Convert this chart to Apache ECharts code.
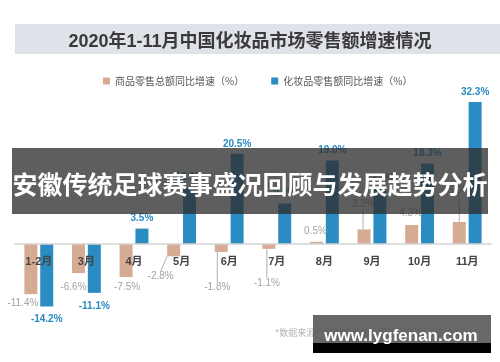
<!DOCTYPE html>
<html>
<head>
<meta charset="utf-8">
<script src="https://cdn.jsdelivr.net/npm/echarts@6/dist/echarts.min.js"></script>
<style>
html,body{margin:0;padding:0;background:#fff;}
#chart{width:500px;height:362px;}
</style>
</head>
<body>
<div id="chart"></div>
<script>
// ---- data ----
var titleText = '2020年1-11月中国化妆品市场零售额增速情况';
var bannerText = '安徽传统足球赛事盛况回顾与发展趋势分析';
var watermarkText = 'www.lygfenan.com';
var sourceText = '*数据来源：国家统计局，聚美丽整理，2020.12';
var seriesNames = ['商品零售总额同比增速（%）', '化妆品零售额同比增速（%）'];
var categories = ['1-2月', '3月', '4月', '5月', '6月', '7月', '8月', '9月', '10月', '11月'];
var retailGrowth = [-11.4, -6.6, -7.5, -2.8, -1.8, -1.1, 0.5, 3.3, 4.3, 5.0];
var cosmeticsGrowth = [-14.2, -11.1, 3.5, 12.9, 20.5, 9.2, 19.0, 12.7, 18.3, 32.3];

// ---- styles ----
var tanColor = '#d5ab93';
var blueColor = '#2b8bc3';
var tanLabelShift = [[-8, -1], [-5, 4], [1, 0], [-13, 10], [-4, 25], [-2, 24], [-1, -1], [-1, -15], [-1, -2], [0, -22]];
var tanLabelLine = [false, false, false, true, true, true, false, true, false, true];

var chart = echarts.init(document.getElementById('chart'), null, {renderer: 'canvas'});

var tanData = retailGrowth.map(function (v, i) {
  return {
    value: v,
    label: {position: v >= 0 ? 'top' : 'bottom', distance: 5},
    labelLine: {show: tanLabelLine[i]}
  };
});
var blueData = cosmeticsGrowth.map(function (v) {
  return {
    value: v,
    label: {position: v >= 0 ? 'top' : 'bottom', distance: v >= 0 ? 5 : 8}
  };
});

var option = {
  backgroundColor: '#ffffff',
  animation: false,
  title: {
    text: titleText,
    left: 'center',
    top: 33,
    padding: 0,
    textStyle: {
      fontFamily: 'Liberation Sans, Noto Sans CJK SC, sans-serif',
      fontSize: 18,
      fontWeight: 'bold',
      color: '#3a3a3a'
    }
  },
  legend: {
    top: 71,
    left: 98,
    icon: 'rect',
    itemWidth: 7,
    itemHeight: 7,
    itemGap: 27,
    data: seriesNames,
    textStyle: {
      fontFamily: 'Noto Sans CJK SC, sans-serif',
      fontSize: 10,
      color: '#555'
    }
  },
  grid: {left: 15, right: 9, top: 90, bottom: 30},
  xAxis: {
    type: 'category',
    data: categories,
    z: 10,
    axisLine: {onZero: true, lineStyle: {color: '#d4d4d4', width: 1.5}},
    axisTick: {show: false},
    axisLabel: {
      margin: -76,
      fontFamily: 'Liberation Sans, Noto Sans CJK SC, sans-serif',
      fontSize: 11,
      fontWeight: 'bold',
      color: '#444'
    }
  },
  yAxis: {
    type: 'value',
    min: -20,
    max: 35,
    show: false,
    splitLine: {show: false}
  },
  series: [
    {
      name: seriesNames[0],
      type: 'bar',
      data: tanData,
      barWidth: 13,
      barGap: '22%',
      itemStyle: {color: tanColor},
      label: {
        show: true,
        formatter: function (p) { return p.value.toFixed(1) + '%'; },
        fontFamily: 'Liberation Sans, sans-serif',
        fontSize: 10,
        color: '#a3a3a3'
      },
      labelLine: {lineStyle: {color: '#b0b0b0', width: 1}},
      labelLayout: function (params) {
        var s = tanLabelShift[params.dataIndex];
        return {dx: s[0], dy: s[1]};
      },
      z: 2
    },
    {
      name: seriesNames[1],
      type: 'bar',
      data: blueData,
      barWidth: 13,
      itemStyle: {color: blueColor},
      label: {
        show: true,
        formatter: function (p) { return p.value.toFixed(1) + '%'; },
        fontFamily: 'Liberation Sans, sans-serif',
        fontSize: 10,
        fontWeight: 'bold',
        color: blueColor
      },
      z: 2
    }
  ],
  graphic: [
    {
      type: 'rect', z: -10, silent: true,
      shape: {x: 15, y: 24, width: 485, height: 30},
      style: {fill: '#dfe3e9'}
    },
    {
      type: 'text', z: 5, silent: true,
      x: 275, y: 333,
      style: {
        text: sourceText, fill: '#b5b5b5', fontSize: 9,
        fontFamily: 'Noto Sans CJK SC, sans-serif', verticalAlign: 'middle'
      }
    },
    {
      type: 'rect', z: 50, silent: true,
      shape: {x: 12, y: 148, width: 476, height: 66},
      style: {fill: 'rgba(45,45,45,0.77)'}
    },
    {
      type: 'text', z: 51, silent: true,
      x: 250, y: 184,
      style: {
        text: bannerText, fill: '#ffffff', fontSize: 25, fontWeight: 'bold',
        fontFamily: 'Noto Sans CJK SC, sans-serif',
        align: 'center', verticalAlign: 'middle'
      }
    },
    {
      type: 'rect', z: 50, silent: true,
      shape: {x: 313, y: 315, width: 178, height: 28},
      style: {fill: 'rgba(88,88,88,0.9)'}
    },
    {
      type: 'rect', z: 50, silent: true,
      shape: {x: 313, y: 343, width: 178, height: 10},
      style: {fill: '#000000'}
    },
    {
      type: 'text', z: 51, silent: true,
      x: 401, y: 336,
      style: {
        text: watermarkText, fill: '#ffffff', fontSize: 17, fontWeight: 'bold',
        fontFamily: 'Liberation Sans, sans-serif',
        align: 'center', verticalAlign: 'middle'
      }
    }
  ]
};
chart.setOption(option);
</script>
</body>
</html>
